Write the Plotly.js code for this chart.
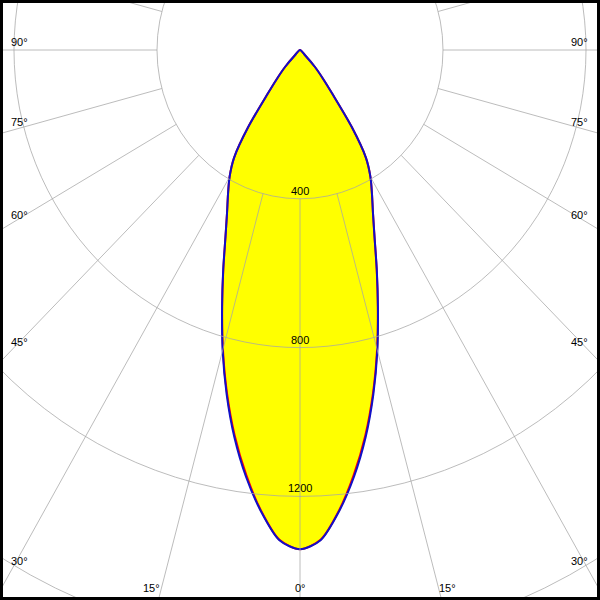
<!DOCTYPE html>
<html>
<head>
<meta charset="utf-8">
<script src="https://cdn.plot.ly/plotly-3.0.1.min.js"></script>
<style>
  html, body { margin: 0; padding: 0; background: #fff; }
  #chart { width: 600px; height: 600px; }
</style>
</head>
<body>
<div id="chart"></div>
<script>
// Vertical angle gamma (degrees, 0 = straight down)
const gammaDeg = [0, 2.5, 5, 7.5, 10, 12.5, 15, 17.5, 20, 22.5, 25, 27.5, 30, 32.5, 35, 37.5, 40, 42.5, 45, 47.5, 50, 60, 70, 80, 90];
// Luminous intensity (cd/klm) in the C0-C180 plane (red)
const planeC0C180 = [1342, 1318, 1244, 1152, 1052, 944, 833, 724, 627, 545, 483, 436, 394, 343, 252, 150, 98, 62, 20, 0, 0, 0, 0, 0, 0];
// Luminous intensity (cd/klm) in the C90-C270 plane (blue)
const planeC90C270 = [1342, 1319, 1246, 1157, 1057, 948, 836, 725, 628, 545, 483, 436, 394, 343, 252, 150, 98, 62, 20, 0, 0, 0, 0, 0, 0];

// Grid
const ringValues = [400, 800, 1200, 1600];
const ringLabels = ['400', '800', '1200'];
const spokeAngles = [-165, -150, -135, -120, -105, -90, -75, -60, -45, -30, -15, 0, 15, 30, 45, 60, 75, 90, 105, 120, 135, 150, 165, 180];
const leftLabels = ['90°', '75°', '60°', '45°', '30°'];
const rightLabels = ['90°', '75°', '60°', '45°', '30°'];
const bottomLabels = ['15°', '0°', '15°'];

// label placement (pixels in the 600x600 frame)
const sideLabelY = [42, 122, 215, 342, 561];
const bottomLabelX = [151, 300, 447];
const bottomLabelY = 588;

const rad = Math.PI / 180;
function polarCurve(vals) {
  const xs = [], ys = [];
  let apexAdded = false;
  function add(i, side) {
    if (vals[i] === 0) {
      if (apexAdded) return;
      apexAdded = true;
    }
    xs.push(side * vals[i] * Math.sin(gammaDeg[i] * rad));
    ys.push(-vals[i] * Math.cos(gammaDeg[i] * rad));
  }
  // left half (mirrored), from 90 down to 0
  for (let i = gammaDeg.length - 1; i >= 0; i--) add(i, -1);
  apexAdded = false;
  const rightXs = [], rightYs = [];
  // right half, from 0 up to 90 (apex shared with left side)
  for (let i = 1; i < gammaDeg.length; i++) {
    if (vals[i] === 0) continue;
    xs.push(vals[i] * Math.sin(gammaDeg[i] * rad));
    ys.push(-vals[i] * Math.cos(gammaDeg[i] * rad));
  }
  xs.push(xs[0]); ys.push(ys[0]);
  return {x: xs, y: ys};
}

const red = polarCurve(planeC0C180);
const blue = polarCurve(planeC90C270);

const curveLine = {shape: 'spline', smoothing: 0.8};
const traces = [
  {x: blue.x, y: blue.y, type: 'scatter', mode: 'lines', fill: 'toself',
   fillcolor: '#FFFF00', line: Object.assign({width: 0, color: '#FFFF00'}, curveLine), hoverinfo: 'skip'},
  {x: red.x, y: red.y, type: 'scatter', mode: 'lines',
   line: Object.assign({width: 2, color: '#FF0000'}, curveLine), name: 'C0-C180'},
  {x: blue.x, y: blue.y, type: 'scatter', mode: 'lines',
   line: Object.assign({width: 2, color: '#1010C8'}, curveLine), name: 'C90-C270'}
];

const gridColor = 'rgba(165,165,165,0.75)';
const shapes = [];
ringValues.forEach(r => {
  shapes.push({type: 'circle', xref: 'x', yref: 'y', x0: -r, x1: r, y0: -r, y1: r,
    line: {color: gridColor, width: 1}, layer: 'above'});
});
spokeAngles.forEach(a => {
  const s = Math.sin(a * rad), c = Math.cos(a * rad);
  shapes.push({type: 'line', xref: 'x', yref: 'y',
    x0: 400 * s, y0: -400 * c, x1: 3000 * s, y1: -3000 * c,
    line: {color: gridColor, width: 1}, layer: 'above'});
});
shapes.push({type: 'rect', xref: 'paper', yref: 'paper', x0: 0, x1: 1, y0: 0, y1: 1,
  line: {color: '#000', width: 6}, layer: 'above'});

const font = {family: '"Liberation Sans", Arial, sans-serif', size: 11, color: '#000'};
const annotations = [];
ringLabels.forEach((t, i) => {
  annotations.push({x: 0, y: -ringValues[i], xref: 'x', yref: 'y', text: t,
    showarrow: false, xanchor: 'center', yanchor: 'bottom', yshift: 0, font: font});
});
leftLabels.forEach((t, i) => {
  annotations.push({x: 9 / 600, y: 1 - sideLabelY[i] / 600, xref: 'paper', yref: 'paper', text: t,
    showarrow: false, xanchor: 'left', yanchor: 'middle', font: font});
});
rightLabels.forEach((t, i) => {
  annotations.push({x: 590 / 600, y: 1 - sideLabelY[i] / 600, xref: 'paper', yref: 'paper', text: t,
    showarrow: false, xanchor: 'right', yanchor: 'middle', font: font});
});
bottomLabels.forEach((t, i) => {
  annotations.push({x: bottomLabelX[i] / 600, y: 1 - bottomLabelY / 600, xref: 'paper', yref: 'paper', text: t,
    showarrow: false, xanchor: 'center', yanchor: 'middle', font: font});
});

// pixel scales: 0.3575 px per cd horizontally, 0.372 px per cd vertically; centre at (300, 50)
const sx = 0.3575, sy = 0.372;
const layout = {
  width: 600, height: 600,
  margin: {l: 0, r: 0, t: 0, b: 0, pad: 0},
  paper_bgcolor: '#fff', plot_bgcolor: '#fff',
  showlegend: false,
  xaxis: {range: [-300 / sx, 300 / sx], visible: false, fixedrange: true},
  yaxis: {range: [-550 / sy, 50 / sy], visible: false, fixedrange: true},
  shapes: shapes,
  annotations: annotations
};

Plotly.newPlot('chart', traces, layout, {displayModeBar: false, staticPlot: true});
</script>
</body>
</html>
